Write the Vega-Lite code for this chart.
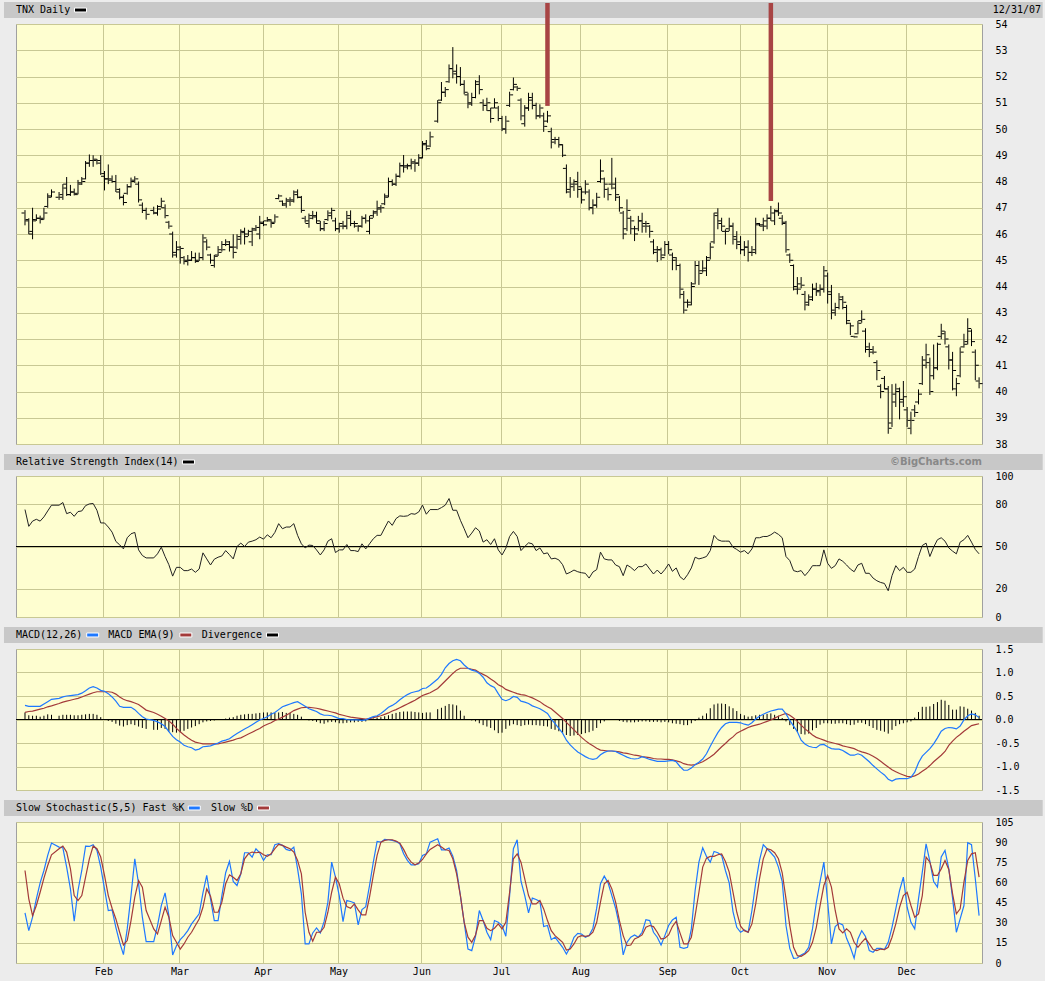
{
"$schema":"https://vega.github.io/schema/vega-lite/v6.json",
"background":"#ececec",
"padding":{"left":3,"top":0,"right":3,"bottom":4},
"spacing":32,
"bounds":"flush",
"config":{
"view":{"fill":"#fefed0","stroke":"#a0a0a0","strokeWidth":1},
"axis":{"labelFont":"DejaVu Sans Mono","labelFontSize":10,"labelColor":"#000","labelOverlap":false,"gridColor":"#c8c894","gridOpacity":1,"gridWidth":1,"ticks":false,"domain":false,"title":null},
"text":{"font":"DejaVu Sans Mono","fontSize":10,"color":"#000"}
},
"datasets":{"one":[{"a":1}],"days":[
{"i":0,"o":46.8,"h":46.91,"l":46.33,"c":46.55,"rsi":76.2,"macd":0.30,"sig":0.15,"div":0.15,"k":37.3,"d":68.9},
{"i":1,"o":46.5,"h":46.6,"l":45.99,"c":46.1,"rsi":64.3,"macd":0.28,"sig":0.17,"div":0.09,"k":24.1,"d":47.8},
{"i":2,"o":46.0,"h":47.0,"l":45.8,"c":46.5,"rsi":68,"macd":0.28,"sig":0.18,"div":0.08,"k":34.1,"d":35.3},
{"i":3,"o":46.55,"h":46.75,"l":46.5,"c":46.6,"rsi":69.3,"macd":0.28,"sig":0.20,"div":0.08,"k":47.8,"d":42.8},
{"i":4,"o":46.6,"h":46.7,"l":46.4,"c":46.55,"rsi":68,"macd":0.28,"sig":0.22,"div":0.06,"k":59.7,"d":52.7},
{"i":5,"o":46.6,"h":47.0,"l":46.55,"c":46.8,"rsi":71,"macd":0.33,"sig":0.24,"div":0.08,"k":68.9,"d":63.2},
{"i":6,"o":47.05,"h":47.55,"l":47.0,"c":47.4,"rsi":75.2,"macd":0.38,"sig":0.27,"div":0.11,"k":80.1,"d":72.6},
{"i":7,"o":47.45,"h":47.7,"l":47.4,"c":47.6,"rsi":79.3,"macd":0.43,"sig":0.29,"div":0.10,"k":89.3,"d":80.6},
{"i":9,"o":47.4,"h":47.6,"l":47.3,"c":47.5,"rsi":79.3,"macd":0.45,"sig":0.34,"div":0.08,"k":86.3,"d":85.1},
{"i":10,"o":47.4,"h":47.9,"l":47.3,"c":47.75,"rsi":81.2,"macd":0.48,"sig":0.37,"div":0.10,"k":85.8,"d":87.1},
{"i":11,"o":47.9,"h":48.17,"l":47.45,"c":47.5,"rsi":73.3,"macd":0.50,"sig":0.39,"div":0.10,"k":71.4,"d":82.6},
{"i":12,"o":47.5,"h":47.87,"l":47.45,"c":47.6,"rsi":74.3,"macd":0.51,"sig":0.41,"div":0.10,"k":55.2,"d":70.1},
{"i":13,"o":47.6,"h":47.73,"l":47.47,"c":47.5,"rsi":71.4,"macd":0.52,"sig":0.43,"div":0.09,"k":31.1,"d":50.2},
{"i":14,"o":47.55,"h":48.06,"l":47.51,"c":47.9,"rsi":74.8,"macd":0.53,"sig":0.45,"div":0.09,"k":54,"d":46.5},
{"i":15,"o":47.95,"h":48.17,"l":47.87,"c":48.0,"rsi":75.2,"macd":0.56,"sig":0.48,"div":0.10,"k":68.9,"d":50.2},
{"i":16,"o":48.1,"h":48.78,"l":48.08,"c":48.7,"rsi":79,"macd":0.61,"sig":0.51,"div":0.11,"k":87.1,"d":63.9},
{"i":17,"o":48.7,"h":49.03,"l":48.56,"c":48.8,"rsi":80.2,"macd":0.67,"sig":0.54,"div":0.12,"k":86.8,"d":77.6},
{"i":18,"o":48.8,"h":49.0,"l":48.56,"c":48.85,"rsi":80.5,"macd":0.70,"sig":0.57,"div":0.12,"k":88.1,"d":87.1},
{"i":19,"o":48.8,"h":48.86,"l":48.65,"c":48.7,"rsi":75.7,"macd":0.67,"sig":0.59,"div":0.10,"k":83.8,"d":85.1},
{"i":20,"o":48.8,"h":49.0,"l":48.25,"c":48.3,"rsi":66.7,"macd":0.62,"sig":0.59,"div":0.05,"k":71.4,"d":78.9},
{"i":21,"o":48.2,"h":48.4,"l":47.66,"c":48.1,"rsi":66.7,"macd":0.60,"sig":0.59,"div":0.00,"k":55.2,"d":65.2},
{"i":22,"o":48.1,"h":48.65,"l":47.9,"c":48.05,"rsi":63.8,"macd":0.55,"sig":0.59,"div":-0.03,"k":39.1,"d":50.2},
{"i":23,"o":48.1,"h":48.23,"l":47.95,"c":48.0,"rsi":60.2,"macd":0.48,"sig":0.58,"div":-0.05,"k":39.6,"d":40.8},
{"i":24,"o":48.0,"h":48.25,"l":47.6,"c":47.7,"rsi":53.6,"macd":0.39,"sig":0.54,"div":-0.09,"k":26.6,"d":32.8},
{"i":25,"o":47.6,"h":47.74,"l":47.32,"c":47.4,"rsi":51.2,"macd":0.28,"sig":0.48,"div":-0.13,"k":15.4,"d":22.9},
{"i":26,"o":47.4,"h":47.5,"l":47.09,"c":47.2,"rsi":48.3,"macd":0.26,"sig":0.43,"div":-0.15,"k":6.2,"d":13.4},
{"i":27,"o":47.55,"h":47.9,"l":47.5,"c":47.8,"rsi":56.2,"macd":0.26,"sig":0.40,"div":-0.12,"k":25.4,"d":16.7},
{"i":28,"o":47.8,"h":48.15,"l":47.77,"c":48.05,"rsi":59,"macd":0.26,"sig":0.38,"div":-0.10,"k":50.2,"d":31.6},
{"i":29,"o":48.0,"h":48.2,"l":47.95,"c":48.1,"rsi":60,"macd":0.21,"sig":0.35,"div":-0.12,"k":77.6,"d":49},
{"i":30,"o":47.9,"h":48.0,"l":47.2,"c":47.3,"rsi":47.6,"macd":0.13,"sig":0.32,"div":-0.15,"k":59,"d":61.4},
{"i":31,"o":47.1,"h":47.2,"l":46.8,"c":46.9,"rsi":43.6,"macd":0.06,"sig":0.26,"div":-0.18,"k":34.1,"d":56.4},
{"i":32,"o":46.9,"h":47.0,"l":46.55,"c":46.75,"rsi":41.9,"macd":0.01,"sig":0.20,"div":-0.20,"k":15.9,"d":39.1},
{"i":34,"o":46.9,"h":47.04,"l":46.75,"c":46.8,"rsi":41.9,"macd":-0.02,"sig":0.15,"div":-0.22,"k":15.9,"d":25.4},
{"i":35,"o":46.8,"h":47.1,"l":46.7,"c":46.95,"rsi":44.8,"macd":-0.05,"sig":0.11,"div":-0.22,"k":27.9,"d":21.6},
{"i":36,"o":47.05,"h":47.38,"l":47.0,"c":47.25,"rsi":49.5,"macd":-0.09,"sig":0.07,"div":-0.18,"k":42.8,"d":31.6},
{"i":37,"o":47.0,"h":47.13,"l":46.6,"c":46.7,"rsi":42.9,"macd":-0.15,"sig":0.02,"div":-0.20,"k":52.2,"d":41.5},
{"i":38,"o":46.45,"h":46.5,"l":46.2,"c":46.3,"rsi":37.1,"macd":-0.26,"sig":-0.03,"div":-0.26,"k":35.3,"d":34.1},
{"i":39,"o":46.0,"h":46.09,"l":45.1,"c":45.2,"rsi":29,"macd":-0.36,"sig":-0.10,"div":-0.27,"k":6,"d":20.4},
{"i":40,"o":45.3,"h":45.73,"l":45.1,"c":45.5,"rsi":35.2,"macd":-0.43,"sig":-0.19,"div":-0.28,"k":12.9,"d":15.4},
{"i":41,"o":45.4,"h":45.54,"l":44.87,"c":45.45,"rsi":35.2,"macd":-0.48,"sig":-0.26,"div":-0.27,"k":17.4,"d":10.4},
{"i":42,"o":45.1,"h":45.16,"l":44.84,"c":45.0,"rsi":32.9,"macd":-0.55,"sig":-0.33,"div":-0.24,"k":20.4,"d":14.2},
{"i":43,"o":44.95,"h":45.2,"l":44.8,"c":45.0,"rsi":32.9,"macd":-0.58,"sig":-0.39,"div":-0.20,"k":24.1,"d":19.2},
{"i":44,"o":45.0,"h":45.35,"l":44.97,"c":45.1,"rsi":34,"macd":-0.60,"sig":-0.44,"div":-0.17,"k":29.1,"d":22.9},
{"i":45,"o":45.1,"h":45.29,"l":44.9,"c":44.95,"rsi":31.7,"macd":-0.65,"sig":-0.48,"div":-0.14,"k":32.8,"d":27.9},
{"i":46,"o":45.0,"h":45.29,"l":44.97,"c":45.1,"rsi":34,"macd":-0.63,"sig":-0.50,"div":-0.10,"k":36.6,"d":32.8},
{"i":47,"o":45.1,"h":45.99,"l":45.0,"c":45.85,"rsi":45.5,"macd":-0.58,"sig":-0.52,"div":-0.06,"k":52.2,"d":41.5},
{"i":48,"o":45.7,"h":45.8,"l":45.38,"c":45.5,"rsi":41.2,"macd":-0.57,"sig":-0.52,"div":-0.04,"k":65.2,"d":55.2},
{"i":49,"o":45.2,"h":45.25,"l":44.87,"c":45.0,"rsi":36.9,"macd":-0.56,"sig":-0.52,"div":-0.03,"k":47.8,"d":49.8},
{"i":50,"o":44.8,"h":45.2,"l":44.72,"c":45.15,"rsi":41,"macd":-0.53,"sig":-0.52,"div":-0.02,"k":31.6,"d":37.8},
{"i":51,"o":45.2,"h":45.54,"l":45.16,"c":45.3,"rsi":42.4,"macd":-0.50,"sig":-0.52,"div":0.00,"k":31.6,"d":37.8},
{"i":52,"o":45.4,"h":45.73,"l":45.33,"c":45.4,"rsi":43.3,"macd":-0.46,"sig":-0.50,"div":0.01,"k":50.2,"d":45.3},
{"i":53,"o":45.6,"h":45.8,"l":45.54,"c":45.7,"rsi":47.1,"macd":-0.44,"sig":-0.48,"div":0.02,"k":67.2,"d":59},
{"i":54,"o":45.6,"h":45.73,"l":45.33,"c":45.5,"rsi":44.3,"macd":-0.41,"sig":-0.46,"div":0.04,"k":75.6,"d":65.7},
{"i":55,"o":45.5,"h":45.99,"l":45.07,"c":45.3,"rsi":41.2,"macd":-0.35,"sig":-0.44,"div":0.05,"k":60.7,"d":63.9},
{"i":56,"o":45.5,"h":45.99,"l":45.42,"c":45.9,"rsi":50,"macd":-0.30,"sig":-0.41,"div":0.08,"k":57.7,"d":61.4},
{"i":57,"o":45.8,"h":46.18,"l":45.6,"c":46.05,"rsi":52.4,"macd":-0.25,"sig":-0.39,"div":0.10,"k":66.4,"d":66.4},
{"i":58,"o":46.1,"h":46.24,"l":45.6,"c":45.9,"rsi":50,"macd":-0.20,"sig":-0.35,"div":0.11,"k":82.1,"d":77.6},
{"i":59,"o":46.0,"h":46.16,"l":45.92,"c":46.1,"rsi":53.1,"macd":-0.16,"sig":-0.31,"div":0.12,"k":82.1,"d":81.3},
{"i":60,"o":45.7,"h":46.24,"l":45.54,"c":46.15,"rsi":53.8,"macd":-0.11,"sig":-0.27,"div":0.12,"k":78.9,"d":82.6},
{"i":61,"o":46.2,"h":46.34,"l":46.11,"c":46.25,"rsi":54.8,"macd":-0.06,"sig":-0.23,"div":0.13,"k":85.1,"d":82.1},
{"i":62,"o":46.0,"h":46.69,"l":45.8,"c":46.4,"rsi":56.7,"macd":-0.01,"sig":-0.19,"div":0.14,"k":82.1,"d":82.6},
{"i":63,"o":46.45,"h":46.5,"l":46.3,"c":46.35,"rsi":55.2,"macd":0.02,"sig":-0.14,"div":0.15,"k":76.4,"d":80.6},
{"i":64,"o":46.5,"h":46.65,"l":46.47,"c":46.55,"rsi":58.3,"macd":0.06,"sig":-0.10,"div":0.15,"k":80.6,"d":79.4},
{"i":65,"o":46.5,"h":46.56,"l":46.24,"c":46.4,"rsi":56.2,"macd":0.11,"sig":-0.07,"div":0.15,"k":80.6,"d":81.3},
{"i":66,"o":46.45,"h":46.75,"l":46.43,"c":46.65,"rsi":60,"macd":0.15,"sig":-0.02,"div":0.14,"k":88.1,"d":85.1},
{"i":67,"o":47.35,"h":47.51,"l":47.32,"c":47.45,"rsi":66.2,"macd":0.21,"sig":0.01,"div":0.15,"k":88.8,"d":88.3},
{"i":68,"o":47.25,"h":47.28,"l":47.07,"c":47.15,"rsi":62.6,"macd":0.27,"sig":0.05,"div":0.16,"k":87.6,"d":87.6},
{"i":69,"o":47.1,"h":47.38,"l":47.0,"c":47.25,"rsi":63.8,"macd":0.30,"sig":0.09,"div":0.14,"k":84.6,"d":86.3},
{"i":70,"o":47.3,"h":47.4,"l":47.07,"c":47.25,"rsi":63.8,"macd":0.33,"sig":0.14,"div":0.14,"k":83.8,"d":85.1},
{"i":71,"o":47.3,"h":47.66,"l":47.2,"c":47.5,"rsi":66.2,"macd":0.36,"sig":0.19,"div":0.12,"k":86.3,"d":82.6},
{"i":72,"o":47.6,"h":47.7,"l":47.36,"c":47.4,"rsi":57.9,"macd":0.38,"sig":0.22,"div":0.10,"k":70.1,"d":76.4},
{"i":73,"o":47.4,"h":47.45,"l":46.81,"c":46.9,"rsi":51.9,"macd":0.33,"sig":0.25,"div":0.06,"k":51.5,"d":66.4},
{"i":74,"o":46.6,"h":46.69,"l":46.43,"c":46.5,"rsi":49,"macd":0.28,"sig":0.26,"div":0.00,"k":14.2,"d":37.8},
{"i":75,"o":46.4,"h":46.78,"l":46.24,"c":46.6,"rsi":51,"macd":0.23,"sig":0.26,"div":-0.02,"k":14.2,"d":22.9},
{"i":76,"o":46.7,"h":46.88,"l":46.56,"c":46.65,"rsi":50.7,"macd":0.20,"sig":0.25,"div":-0.03,"k":22.4,"d":16.2},
{"i":77,"o":46.7,"h":46.85,"l":46.4,"c":46.5,"rsi":47.6,"macd":0.17,"sig":0.24,"div":-0.05,"k":26.1,"d":22.9},
{"i":78,"o":46.4,"h":46.5,"l":46.11,"c":46.2,"rsi":44,"macd":0.12,"sig":0.22,"div":-0.08,"k":22.4,"d":22.9},
{"i":79,"o":46.2,"h":46.5,"l":46.11,"c":46.4,"rsi":47.6,"macd":0.09,"sig":0.20,"div":-0.09,"k":30.8,"d":26.6},
{"i":80,"o":46.55,"h":46.9,"l":46.5,"c":46.8,"rsi":53.8,"macd":0.09,"sig":0.18,"div":-0.06,"k":45.3,"d":37.8},
{"i":81,"o":46.7,"h":47.0,"l":46.56,"c":46.9,"rsi":55.5,"macd":0.08,"sig":0.16,"div":-0.05,"k":75.1,"d":52.7},
{"i":82,"o":46.5,"h":46.62,"l":46.11,"c":46.2,"rsi":45.7,"macd":0.05,"sig":0.14,"div":-0.06,"k":63.9,"d":63.9},
{"i":83,"o":46.2,"h":46.43,"l":46.05,"c":46.3,"rsi":47.6,"macd":0.02,"sig":0.11,"div":-0.08,"k":50.2,"d":59},
{"i":84,"o":46.4,"h":46.5,"l":46.18,"c":46.3,"rsi":47.6,"macd":0.02,"sig":0.09,"div":-0.08,"k":30.8,"d":48.3},
{"i":85,"o":46.3,"h":46.88,"l":46.18,"c":46.6,"rsi":51.4,"macd":0.00,"sig":0.07,"div":-0.07,"k":46.5,"d":42},
{"i":86,"o":46.7,"h":46.9,"l":46.3,"c":46.4,"rsi":47.1,"macd":-0.01,"sig":0.05,"div":-0.06,"k":45.8,"d":40.8},
{"i":87,"o":46.4,"h":46.5,"l":46.24,"c":46.4,"rsi":47.1,"macd":-0.01,"sig":0.04,"div":-0.06,"k":44.8,"d":44},
{"i":88,"o":46.3,"h":46.34,"l":46.09,"c":46.3,"rsi":46.4,"macd":-0.01,"sig":0.03,"div":-0.05,"k":28.4,"d":39.6},
{"i":89,"o":46.3,"h":46.69,"l":46.24,"c":46.6,"rsi":51.9,"macd":-0.02,"sig":0.02,"div":-0.05,"k":39.8,"d":35.8},
{"i":90,"o":46.6,"h":46.75,"l":46.4,"c":46.5,"rsi":48.3,"macd":-0.01,"sig":0.01,"div":-0.04,"k":42,"d":35.8},
{"i":91,"o":46.1,"h":46.69,"l":45.99,"c":46.6,"rsi":51.9,"macd":0.03,"sig":0.02,"div":0.00,"k":57.7,"d":49},
{"i":92,"o":46.7,"h":46.9,"l":46.62,"c":46.85,"rsi":55.5,"macd":0.06,"sig":0.04,"div":0.02,"k":75.1,"d":65.2},
{"i":93,"o":46.8,"h":47.27,"l":46.69,"c":47.0,"rsi":57.9,"macd":0.08,"sig":0.06,"div":0.04,"k":90.5,"d":80.1},
{"i":94,"o":46.95,"h":47.1,"l":46.81,"c":47.0,"rsi":57.9,"macd":0.13,"sig":0.08,"div":0.05,"k":90,"d":90},
{"i":95,"o":47.15,"h":47.54,"l":47.1,"c":47.4,"rsi":63.1,"macd":0.19,"sig":0.11,"div":0.07,"k":92,"d":91.3},
{"i":96,"o":47.45,"h":48.15,"l":47.4,"c":48.0,"rsi":68.1,"macd":0.26,"sig":0.14,"div":0.09,"k":91.8,"d":91.8},
{"i":97,"o":48.0,"h":48.08,"l":47.83,"c":47.9,"rsi":65,"macd":0.30,"sig":0.18,"div":0.12,"k":91.3,"d":91.8},
{"i":98,"o":47.9,"h":48.3,"l":47.83,"c":48.2,"rsi":69.8,"macd":0.35,"sig":0.21,"div":0.14,"k":90.5,"d":90.8},
{"i":99,"o":48.2,"h":48.72,"l":48.15,"c":48.6,"rsi":71.7,"macd":0.42,"sig":0.25,"div":0.16,"k":88.8,"d":89.3},
{"i":100,"o":48.6,"h":49.01,"l":48.34,"c":48.6,"rsi":71.4,"macd":0.48,"sig":0.29,"div":0.17,"k":81.3,"d":84.6},
{"i":101,"o":48.55,"h":48.68,"l":48.46,"c":48.6,"rsi":71.7,"macd":0.53,"sig":0.33,"div":0.17,"k":76.4,"d":78.9},
{"i":102,"o":48.6,"h":48.87,"l":48.46,"c":48.75,"rsi":73.3,"macd":0.57,"sig":0.37,"div":0.17,"k":73.1,"d":75.1},
{"i":103,"o":48.7,"h":48.85,"l":48.37,"c":48.7,"rsi":72.9,"macd":0.59,"sig":0.41,"div":0.16,"k":73.1,"d":73.1},
{"i":104,"o":48.7,"h":49.04,"l":48.59,"c":48.9,"rsi":74.5,"macd":0.61,"sig":0.46,"div":0.15,"k":73.9,"d":74.4},
{"i":105,"o":48.9,"h":49.54,"l":48.88,"c":49.45,"rsi":79.3,"macd":0.66,"sig":0.51,"div":0.14,"k":80.1,"d":77.1},
{"i":106,"o":49.4,"h":49.58,"l":49.19,"c":49.25,"rsi":72.9,"macd":0.67,"sig":0.54,"div":0.15,"k":81.3,"d":81.3},
{"i":107,"o":49.35,"h":49.9,"l":49.31,"c":49.7,"rsi":76.2,"macd":0.73,"sig":0.57,"div":0.15,"k":90,"d":84.6},
{"i":109,"o":50.3,"h":51.1,"l":50.24,"c":51.0,"rsi":76.2,"macd":0.86,"sig":0.66,"div":0.22,"k":92.5,"d":88.1},
{"i":110,"o":51.1,"h":51.79,"l":51.07,"c":51.4,"rsi":77.6,"macd":0.96,"sig":0.74,"div":0.25,"k":84.3,"d":86.3},
{"i":111,"o":51.4,"h":51.6,"l":51.22,"c":51.5,"rsi":79.3,"macd":1.10,"sig":0.82,"div":0.29,"k":84.3,"d":84.3},
{"i":112,"o":51.8,"h":52.46,"l":51.76,"c":52.3,"rsi":84,"macd":1.19,"sig":0.90,"div":0.33,"k":85.6,"d":83.8},
{"i":113,"o":52.3,"h":53.12,"l":51.93,"c":52.1,"rsi":75.7,"macd":1.25,"sig":0.98,"div":0.32,"k":79.6,"d":77.6},
{"i":114,"o":52.2,"h":52.46,"l":51.73,"c":52.0,"rsi":75.7,"macd":1.28,"sig":1.05,"div":0.30,"k":68.9,"d":66.4},
{"i":115,"o":52.0,"h":52.36,"l":51.64,"c":51.7,"rsi":68.6,"macd":1.25,"sig":1.09,"div":0.19,"k":50.2,"d":50.2},
{"i":116,"o":51.7,"h":51.86,"l":51.32,"c":51.4,"rsi":62.6,"macd":1.16,"sig":1.09,"div":0.08,"k":30.3,"d":30.3},
{"i":117,"o":51.3,"h":51.38,"l":50.79,"c":50.95,"rsi":56.2,"macd":1.09,"sig":1.09,"div":0.01,"k":10.4,"d":19.2},
{"i":118,"o":51.0,"h":51.38,"l":50.88,"c":51.2,"rsi":59.5,"macd":1.05,"sig":1.07,"div":-0.02,"k":9.2,"d":15.4},
{"i":119,"o":51.2,"h":51.86,"l":51.17,"c":51.7,"rsi":63.3,"macd":1.03,"sig":1.05,"div":-0.04,"k":19.9,"d":20.9},
{"i":120,"o":51.8,"h":52.05,"l":51.32,"c":51.5,"rsi":61,"macd":0.98,"sig":1.00,"div":-0.08,"k":39.1,"d":31.6},
{"i":121,"o":51.0,"h":51.13,"l":50.69,"c":50.9,"rsi":53.1,"macd":0.90,"sig":0.96,"div":-0.12,"k":31.6,"d":31.6},
{"i":122,"o":50.9,"h":51.19,"l":50.69,"c":51.0,"rsi":54.8,"macd":0.78,"sig":0.92,"div":-0.15,"k":22.9,"d":25.9},
{"i":123,"o":50.7,"h":50.81,"l":50.24,"c":50.4,"rsi":51.4,"macd":0.72,"sig":0.86,"div":-0.18,"k":17.4,"d":24.1},
{"i":124,"o":50.8,"h":51.17,"l":50.79,"c":51.0,"rsi":55.5,"macd":0.68,"sig":0.81,"div":-0.23,"k":31.6,"d":25.9},
{"i":125,"o":50.8,"h":50.88,"l":50.3,"c":50.4,"rsi":47.6,"macd":0.55,"sig":0.74,"div":-0.29,"k":30.3,"d":29.1},
{"i":126,"o":50.4,"h":50.5,"l":49.92,"c":50.0,"rsi":44,"macd":0.43,"sig":0.70,"div":-0.28,"k":27.9,"d":25.4},
{"i":127,"o":50.0,"h":50.5,"l":49.82,"c":50.3,"rsi":48.8,"macd":0.40,"sig":0.64,"div":-0.20,"k":19.9,"d":30.3},
{"i":128,"o":50.9,"h":51.42,"l":50.84,"c":51.3,"rsi":57.1,"macd":0.43,"sig":0.61,"div":-0.13,"k":50.2,"d":52.7},
{"i":129,"o":51.5,"h":51.96,"l":51.47,"c":51.7,"rsi":60.7,"macd":0.49,"sig":0.58,"div":-0.10,"k":85.1,"d":77.6},
{"i":130,"o":51.6,"h":51.64,"l":51.45,"c":51.55,"rsi":57.1,"macd":0.47,"sig":0.55,"div":-0.12,"k":91.8,"d":81.3},
{"i":131,"o":51.1,"h":51.17,"l":50.33,"c":50.5,"rsi":47.1,"macd":0.39,"sig":0.53,"div":-0.14,"k":60.9,"d":75.1},
{"i":132,"o":50.2,"h":50.91,"l":50.09,"c":50.8,"rsi":50,"macd":0.37,"sig":0.52,"div":-0.12,"k":50.2,"d":62.7},
{"i":133,"o":50.8,"h":51.38,"l":50.69,"c":51.1,"rsi":52.6,"macd":0.34,"sig":0.49,"div":-0.11,"k":37.3,"d":50.2},
{"i":134,"o":51.2,"h":51.38,"l":50.75,"c":50.9,"rsi":51.9,"macd":0.29,"sig":0.46,"div":-0.12,"k":48.3,"d":44},
{"i":135,"o":50.9,"h":51.0,"l":50.37,"c":50.5,"rsi":47.1,"macd":0.26,"sig":0.42,"div":-0.12,"k":47.3,"d":44},
{"i":136,"o":50.5,"h":50.94,"l":50.41,"c":50.8,"rsi":49,"macd":0.23,"sig":0.38,"div":-0.13,"k":45.8,"d":46.5},
{"i":137,"o":50.5,"h":50.62,"l":49.89,"c":50.1,"rsi":44.8,"macd":0.18,"sig":0.32,"div":-0.14,"k":27.1,"d":40.3},
{"i":138,"o":50.3,"h":50.69,"l":50.24,"c":50.5,"rsi":45.5,"macd":0.13,"sig":0.27,"div":-0.15,"k":27.9,"d":31.6},
{"i":139,"o":49.9,"h":50.05,"l":49.26,"c":49.6,"rsi":41.2,"macd":0.01,"sig":0.23,"div":-0.20,"k":17.4,"d":24.1},
{"i":140,"o":49.5,"h":49.7,"l":49.42,"c":49.6,"rsi":41.7,"macd":-0.09,"sig":0.16,"div":-0.22,"k":19.2,"d":20.4},
{"i":141,"o":49.6,"h":49.7,"l":49.29,"c":49.4,"rsi":40.5,"macd":-0.19,"sig":0.09,"div":-0.25,"k":15.4,"d":17.9},
{"i":142,"o":49.4,"h":49.42,"l":48.93,"c":49.0,"rsi":37.1,"macd":-0.29,"sig":0.02,"div":-0.28,"k":11.7,"d":15.4},
{"i":143,"o":48.5,"h":48.65,"l":47.55,"c":47.7,"rsi":30.5,"macd":-0.44,"sig":-0.06,"div":-0.33,"k":6.7,"d":9.7},
{"i":144,"o":47.6,"h":48.17,"l":47.38,"c":47.9,"rsi":31.7,"macd":-0.54,"sig":-0.14,"div":-0.35,"k":11.7,"d":10.4},
{"i":145,"o":47.8,"h":48.08,"l":47.64,"c":47.9,"rsi":33.3,"macd":-0.62,"sig":-0.22,"div":-0.34,"k":19.2,"d":14.2},
{"i":146,"o":48.0,"h":48.37,"l":47.38,"c":47.8,"rsi":32.1,"macd":-0.69,"sig":-0.30,"div":-0.33,"k":22.1,"d":19.2},
{"i":147,"o":47.7,"h":47.77,"l":47.16,"c":47.3,"rsi":31.4,"macd":-0.74,"sig":-0.38,"div":-0.31,"k":21.6,"d":20.4},
{"i":148,"o":47.6,"h":48.05,"l":47.51,"c":47.9,"rsi":31,"macd":-0.79,"sig":-0.45,"div":-0.29,"k":19.2,"d":19.9},
{"i":149,"o":47.6,"h":47.7,"l":46.9,"c":47.0,"rsi":27.6,"macd":-0.83,"sig":-0.51,"div":-0.27,"k":20.4,"d":20.4},
{"i":150,"o":47.0,"h":47.32,"l":46.75,"c":47.1,"rsi":31.9,"macd":-0.85,"sig":-0.56,"div":-0.24,"k":25.9,"d":22.9},
{"i":151,"o":47.1,"h":47.57,"l":47.0,"c":47.4,"rsi":33.6,"macd":-0.83,"sig":-0.61,"div":-0.18,"k":40.8,"d":30.3},
{"i":152,"o":48.0,"h":48.84,"l":47.95,"c":48.4,"rsi":46,"macd":-0.75,"sig":-0.65,"div":-0.08,"k":59,"d":45.3},
{"i":153,"o":48.1,"h":48.15,"l":47.38,"c":47.9,"rsi":41.2,"macd":-0.70,"sig":-0.66,"div":-0.04,"k":64.7,"d":59},
{"i":154,"o":47.7,"h":47.77,"l":47.28,"c":47.5,"rsi":40.5,"macd":-0.67,"sig":-0.67,"div":0.00,"k":59.7,"d":61.4},
{"i":155,"o":47.9,"h":48.9,"l":47.7,"c":47.75,"rsi":40.5,"macd":-0.67,"sig":-0.67,"div":0.00,"k":50.2,"d":55.2},
{"i":156,"o":47.9,"h":48.15,"l":47.26,"c":47.5,"rsi":36.9,"macd":-0.68,"sig":-0.68,"div":-0.01,"k":40.8,"d":45.3},
{"i":157,"o":47.4,"h":47.45,"l":46.85,"c":47.0,"rsi":35.7,"macd":-0.72,"sig":-0.69,"div":-0.03,"k":27.9,"d":31.6},
{"i":158,"o":46.8,"h":46.88,"l":45.8,"c":46.0,"rsi":29.3,"macd":-0.76,"sig":-0.71,"div":-0.05,"k":6,"d":20.4},
{"i":159,"o":46.2,"h":47.32,"l":46.11,"c":46.9,"rsi":36.9,"macd":-0.80,"sig":-0.72,"div":-0.06,"k":15.4,"d":12.9},
{"i":160,"o":46.6,"h":46.69,"l":45.99,"c":46.5,"rsi":35.2,"macd":-0.83,"sig":-0.74,"div":-0.06,"k":19.2,"d":13.4},
{"i":161,"o":46.2,"h":46.31,"l":45.73,"c":46.0,"rsi":32.9,"macd":-0.84,"sig":-0.76,"div":-0.06,"k":20.9,"d":17.9},
{"i":162,"o":46.2,"h":46.69,"l":46.11,"c":46.5,"rsi":35.7,"macd":-0.83,"sig":-0.77,"div":-0.05,"k":19.2,"d":19.2},
{"i":163,"o":46.5,"h":46.81,"l":46.05,"c":46.4,"rsi":35.7,"macd":-0.79,"sig":-0.79,"div":-0.04,"k":22.9,"d":20.9},
{"i":164,"o":46.3,"h":46.5,"l":46.05,"c":46.4,"rsi":37.6,"macd":-0.82,"sig":-0.80,"div":-0.04,"k":32.3,"d":26.6},
{"i":165,"o":46.3,"h":46.34,"l":45.86,"c":46.1,"rsi":34,"macd":-0.85,"sig":-0.81,"div":-0.05,"k":31.6,"d":27.9},
{"i":166,"o":45.7,"h":45.8,"l":45.23,"c":45.4,"rsi":30.5,"macd":-0.87,"sig":-0.83,"div":-0.05,"k":22.9,"d":27.1},
{"i":167,"o":45.3,"h":45.54,"l":44.93,"c":45.4,"rsi":33.3,"macd":-0.89,"sig":-0.84,"div":-0.05,"k":19.2,"d":22.9},
{"i":168,"o":45.4,"h":45.48,"l":45.0,"c":45.1,"rsi":30.5,"macd":-0.89,"sig":-0.84,"div":-0.06,"k":13.4,"d":17.9},
{"i":169,"o":45.2,"h":45.73,"l":45.16,"c":45.6,"rsi":33.6,"macd":-0.89,"sig":-0.85,"div":-0.05,"k":20.4,"d":18.4},
{"i":170,"o":45.6,"h":45.73,"l":45.23,"c":45.4,"rsi":37.6,"macd":-0.88,"sig":-0.85,"div":-0.06,"k":27.9,"d":20.9},
{"i":171,"o":45.2,"h":45.29,"l":44.62,"c":45.1,"rsi":32.4,"macd":-0.87,"sig":-0.86,"div":-0.08,"k":32.1,"d":27.1},
{"i":172,"o":45.0,"h":45.12,"l":44.62,"c":44.8,"rsi":34.8,"macd":-0.90,"sig":-0.88,"div":-0.09,"k":34.1,"d":31.1},
{"i":173,"o":44.8,"h":44.87,"l":43.54,"c":43.9,"rsi":28.6,"macd":-1.00,"sig":-0.90,"div":-0.10,"k":11.7,"d":22.4},
{"i":174,"o":43.7,"h":43.83,"l":42.97,"c":43.1,"rsi":26.4,"macd":-1.08,"sig":-0.94,"div":-0.12,"k":10.9,"d":14.2},
{"i":175,"o":43.4,"h":43.51,"l":43.19,"c":43.3,"rsi":30,"macd":-1.08,"sig":-0.96,"div":-0.12,"k":11.7,"d":14.2},
{"i":176,"o":43.4,"h":44.17,"l":43.28,"c":44.0,"rsi":34.8,"macd":-1.03,"sig":-0.97,"div":-0.08,"k":25.4,"d":19.2},
{"i":177,"o":44.1,"h":44.97,"l":44.08,"c":44.8,"rsi":42.4,"macd":-0.96,"sig":-0.96,"div":-0.03,"k":54,"d":35.3},
{"i":178,"o":44.8,"h":44.97,"l":44.06,"c":44.5,"rsi":41.2,"macd":-0.91,"sig":-0.93,"div":0.04,"k":75.1,"d":52.7},
{"i":179,"o":44.6,"h":45.0,"l":44.53,"c":44.7,"rsi":41.9,"macd":-0.84,"sig":-0.90,"div":0.08,"k":85.8,"d":71.4},
{"i":180,"o":44.6,"h":45.16,"l":44.4,"c":45.0,"rsi":42.9,"macd":-0.73,"sig":-0.85,"div":0.13,"k":79.4,"d":78.1},
{"i":181,"o":45.1,"h":45.67,"l":45.03,"c":45.5,"rsi":47.1,"macd":-0.57,"sig":-0.80,"div":0.24,"k":75.1,"d":79.4},
{"i":182,"o":45.7,"h":46.81,"l":45.63,"c":46.7,"rsi":57.9,"macd":-0.42,"sig":-0.74,"div":0.32,"k":83.1,"d":79.4},
{"i":183,"o":46.8,"h":46.98,"l":46.18,"c":46.4,"rsi":54.8,"macd":-0.28,"sig":-0.66,"div":0.34,"k":82.1,"d":80.6},
{"i":184,"o":46.5,"h":46.62,"l":46.11,"c":46.3,"rsi":53.8,"macd":-0.17,"sig":-0.58,"div":0.34,"k":80.1,"d":81.3},
{"i":185,"o":46.1,"h":46.18,"l":45.6,"c":46.1,"rsi":53.8,"macd":-0.09,"sig":-0.51,"div":0.33,"k":68.9,"d":75.6},
{"i":186,"o":46.2,"h":46.62,"l":46.11,"c":46.3,"rsi":53.8,"macd":-0.06,"sig":-0.43,"div":0.28,"k":59.7,"d":67.7},
{"i":187,"o":46.3,"h":46.43,"l":45.6,"c":45.8,"rsi":49.5,"macd":-0.06,"sig":-0.37,"div":0.24,"k":38.3,"d":52.7},
{"i":188,"o":45.9,"h":46.11,"l":45.42,"c":45.6,"rsi":47.9,"macd":-0.06,"sig":-0.29,"div":0.18,"k":26.6,"d":37.8},
{"i":189,"o":45.7,"h":45.92,"l":45.23,"c":45.4,"rsi":46,"macd":-0.07,"sig":-0.25,"div":0.12,"k":22.9,"d":27.4},
{"i":190,"o":45.4,"h":45.73,"l":45.16,"c":45.5,"rsi":47.1,"macd":-0.10,"sig":-0.21,"div":0.09,"k":24.6,"d":24.1},
{"i":191,"o":45.5,"h":45.76,"l":44.95,"c":45.3,"rsi":44.8,"macd":-0.12,"sig":-0.17,"div":0.06,"k":22.9,"d":22.9},
{"i":192,"o":45.3,"h":45.54,"l":45.16,"c":45.4,"rsi":48.3,"macd":-0.07,"sig":-0.14,"div":0.07,"k":39.1,"d":29.1},
{"i":193,"o":45.3,"h":46.62,"l":45.23,"c":46.4,"rsi":56.2,"macd":0.01,"sig":-0.12,"div":0.09,"k":59.5,"d":44},
{"i":194,"o":46.35,"h":46.42,"l":46.3,"c":46.35,"rsi":56.2,"macd":0.07,"sig":-0.10,"div":0.10,"k":76.4,"d":62.7},
{"i":195,"o":46.3,"h":46.62,"l":46.11,"c":46.5,"rsi":57.1,"macd":0.11,"sig":-0.07,"div":0.10,"k":88.1,"d":77.6},
{"i":196,"o":46.3,"h":46.75,"l":46.18,"c":46.6,"rsi":57.1,"macd":0.15,"sig":-0.04,"div":0.12,"k":85.1,"d":85.1},
{"i":197,"o":46.6,"h":47.07,"l":46.5,"c":46.8,"rsi":58.3,"macd":0.18,"sig":-0.01,"div":0.13,"k":82.1,"d":84.3},
{"i":198,"o":46.5,"h":46.94,"l":46.34,"c":46.85,"rsi":60.2,"macd":0.20,"sig":0.03,"div":0.10,"k":78.9,"d":82.1},
{"i":199,"o":46.9,"h":47.2,"l":46.69,"c":46.8,"rsi":58.6,"macd":0.22,"sig":0.07,"div":0.08,"k":71.4,"d":77.6},
{"i":200,"o":46.6,"h":46.72,"l":46.34,"c":46.45,"rsi":56.2,"macd":0.22,"sig":0.10,"div":0.03,"k":60.7,"d":67.2},
{"i":201,"o":46.4,"h":46.5,"l":45.29,"c":45.4,"rsi":42.9,"macd":0.12,"sig":0.13,"div":-0.04,"k":27.9,"d":47.8},
{"i":202,"o":45.2,"h":45.26,"l":44.9,"c":45.0,"rsi":40,"macd":-0.02,"sig":0.09,"div":-0.12,"k":10.9,"d":27.9},
{"i":203,"o":44.8,"h":44.84,"l":43.85,"c":43.9,"rsi":32.9,"macd":-0.14,"sig":0.03,"div":-0.20,"k":3.5,"d":11.7},
{"i":204,"o":44.0,"h":44.36,"l":43.7,"c":43.9,"rsi":32.1,"macd":-0.26,"sig":-0.04,"div":-0.27,"k":3.7,"d":5.5},
{"i":205,"o":44.1,"h":44.36,"l":43.93,"c":44.05,"rsi":32.9,"macd":-0.44,"sig":-0.12,"div":-0.31,"k":6,"d":5},
{"i":206,"o":43.7,"h":43.83,"l":43.09,"c":43.3,"rsi":29.3,"macd":-0.52,"sig":-0.20,"div":-0.32,"k":7.5,"d":6.7},
{"i":207,"o":43.4,"h":43.7,"l":43.26,"c":43.5,"rsi":32.4,"macd":-0.57,"sig":-0.26,"div":-0.30,"k":11.7,"d":9.2},
{"i":208,"o":43.6,"h":44.11,"l":43.45,"c":43.9,"rsi":36.4,"macd":-0.59,"sig":-0.33,"div":-0.23,"k":25.4,"d":15.4},
{"i":209,"o":43.9,"h":44.14,"l":43.64,"c":43.85,"rsi":36.4,"macd":-0.60,"sig":-0.38,"div":-0.18,"k":44.8,"d":26.6},
{"i":210,"o":43.8,"h":44.08,"l":43.64,"c":43.9,"rsi":36.4,"macd":-0.54,"sig":-0.41,"div":-0.11,"k":60.7,"d":42.8},
{"i":211,"o":43.9,"h":44.78,"l":43.77,"c":44.6,"rsi":47.6,"macd":-0.53,"sig":-0.44,"div":-0.08,"k":75.1,"d":57.7},
{"i":212,"o":44.4,"h":44.53,"l":43.35,"c":43.7,"rsi":38.1,"macd":-0.58,"sig":-0.47,"div":-0.08,"k":45.8,"d":65.2},
{"i":213,"o":43.8,"h":44.06,"l":42.75,"c":43.0,"rsi":34.5,"macd":-0.62,"sig":-0.49,"div":-0.09,"k":14.2,"d":56.5},
{"i":214,"o":43.1,"h":43.38,"l":42.88,"c":43.2,"rsi":36.4,"macd":-0.63,"sig":-0.51,"div":-0.09,"k":27.1,"d":39.1},
{"i":215,"o":43.2,"h":43.75,"l":43.13,"c":43.6,"rsi":41.2,"macd":-0.63,"sig":-0.53,"div":-0.08,"k":29.6,"d":25.4},
{"i":216,"o":43.5,"h":43.64,"l":43.13,"c":43.4,"rsi":39.5,"macd":-0.66,"sig":-0.56,"div":-0.08,"k":28.4,"d":22.4},
{"i":217,"o":43.2,"h":43.3,"l":42.56,"c":42.7,"rsi":36.9,"macd":-0.71,"sig":-0.58,"div":-0.10,"k":18.4,"d":25.4},
{"i":218,"o":42.6,"h":42.62,"l":42.15,"c":42.5,"rsi":34,"macd":-0.76,"sig":-0.60,"div":-0.12,"k":11.7,"d":22.9},
{"i":219,"o":42.1,"h":42.12,"l":42.05,"c":42.08,"rsi":32.1,"macd":-0.76,"sig":-0.62,"div":-0.11,"k":3.5,"d":15.4},
{"i":220,"o":42.2,"h":42.69,"l":42.18,"c":42.6,"rsi":36.9,"macd":-0.73,"sig":-0.66,"div":-0.07,"k":17.9,"d":11.7},
{"i":221,"o":42.7,"h":43.09,"l":42.62,"c":42.75,"rsi":38.1,"macd":-0.76,"sig":-0.69,"div":-0.07,"k":24.1,"d":15.4},
{"i":222,"o":42.3,"h":42.41,"l":41.48,"c":41.6,"rsi":31,"macd":-0.83,"sig":-0.71,"div":-0.10,"k":19.7,"d":18.4},
{"i":223,"o":41.7,"h":41.86,"l":41.31,"c":41.5,"rsi":31,"macd":-0.90,"sig":-0.74,"div":-0.14,"k":9.2,"d":14.2},
{"i":224,"o":41.6,"h":41.73,"l":41.42,"c":41.5,"rsi":27.6,"macd":-0.98,"sig":-0.78,"div":-0.18,"k":8,"d":10},
{"i":225,"o":41.1,"h":41.19,"l":40.43,"c":40.8,"rsi":25.7,"macd":-1.05,"sig":-0.83,"div":-0.22,"k":10.9,"d":9.2},
{"i":226,"o":40.2,"h":40.28,"l":39.74,"c":40.0,"rsi":24.5,"macd":-1.12,"sig":-0.89,"div":-0.24,"k":10.9,"d":10.4},
{"i":227,"o":40.5,"h":40.59,"l":40.08,"c":40.1,"rsi":23.8,"macd":-1.18,"sig":-0.95,"div":-0.26,"k":10,"d":10},
{"i":228,"o":40.1,"h":40.21,"l":38.39,"c":38.6,"rsi":18.6,"macd":-1.27,"sig":-1.01,"div":-0.30,"k":15.4,"d":11.7},
{"i":229,"o":38.8,"h":40.28,"l":38.65,"c":39.9,"rsi":29.3,"macd":-1.31,"sig":-1.07,"div":-0.22,"k":26.6,"d":19.2},
{"i":230,"o":39.6,"h":40.3,"l":39.41,"c":40.1,"rsi":36.4,"macd":-1.27,"sig":-1.11,"div":-0.14,"k":40.3,"d":29.1},
{"i":231,"o":40.0,"h":40.15,"l":38.94,"c":39.7,"rsi":32.9,"macd":-1.26,"sig":-1.15,"div":-0.10,"k":54,"d":41.5},
{"i":232,"o":39.6,"h":40.4,"l":39.41,"c":39.8,"rsi":35.2,"macd":-1.26,"sig":-1.18,"div":-0.08,"k":63.9,"d":50.2},
{"i":233,"o":39.3,"h":39.41,"l":38.65,"c":38.9,"rsi":31.7,"macd":-1.26,"sig":-1.21,"div":-0.06,"k":41.5,"d":52.7},
{"i":234,"o":38.6,"h":39.23,"l":38.37,"c":38.9,"rsi":31.7,"macd":-1.23,"sig":-1.22,"div":-0.04,"k":30.3,"d":42.8},
{"i":235,"o":39.3,"h":39.49,"l":39.03,"c":39.2,"rsi":34,"macd":-1.12,"sig":-1.20,"div":0.04,"k":25.4,"d":34.1},
{"i":236,"o":39.6,"h":40.08,"l":39.51,"c":39.9,"rsi":42.9,"macd":-0.92,"sig":-1.16,"div":0.16,"k":47.8,"d":36.6},
{"i":237,"o":40.3,"h":41.35,"l":40.25,"c":41.2,"rsi":50.7,"macd":-0.78,"sig":-1.10,"div":0.27,"k":67.7,"d":50.2},
{"i":238,"o":41.0,"h":41.82,"l":40.88,"c":41.4,"rsi":52.4,"macd":-0.70,"sig":-1.05,"div":0.27,"k":88.8,"d":78.9},
{"i":239,"o":41.1,"h":41.29,"l":39.87,"c":40.0,"rsi":42.9,"macd":-0.62,"sig":-0.98,"div":0.28,"k":75.6,"d":75.1},
{"i":240,"o":40.6,"h":41.79,"l":40.46,"c":40.9,"rsi":49.5,"macd":-0.52,"sig":-0.90,"div":0.33,"k":60.7,"d":65.2},
{"i":241,"o":40.9,"h":41.86,"l":40.81,"c":41.8,"rsi":54.8,"macd":-0.39,"sig":-0.83,"div":0.37,"k":56.5,"d":65.2},
{"i":242,"o":42.1,"h":42.58,"l":41.99,"c":42.3,"rsi":56.2,"macd":-0.25,"sig":-0.76,"div":0.42,"k":78.9,"d":70.1},
{"i":243,"o":42.2,"h":42.3,"l":41.79,"c":42.0,"rsi":53.8,"macd":-0.19,"sig":-0.68,"div":0.40,"k":83.8,"d":76.4},
{"i":244,"o":41.7,"h":41.79,"l":40.84,"c":41.2,"rsi":49,"macd":-0.17,"sig":-0.55,"div":0.31,"k":70.1,"d":69.7},
{"i":245,"o":41.2,"h":41.51,"l":40.04,"c":40.8,"rsi":46.7,"macd":-0.18,"sig":-0.46,"div":0.21,"k":48.3,"d":51.5},
{"i":246,"o":40.1,"h":40.52,"l":39.82,"c":40.3,"rsi":44.8,"macd":-0.20,"sig":-0.38,"div":0.21,"k":22.9,"d":36.6},
{"i":247,"o":40.6,"h":41.68,"l":40.54,"c":41.5,"rsi":53.1,"macd":-0.14,"sig":-0.32,"div":0.28,"k":32.8,"d":40.3},
{"i":248,"o":41.7,"h":42.2,"l":41.67,"c":41.9,"rsi":54.8,"macd":-0.01,"sig":-0.25,"div":0.27,"k":42.8,"d":60.2},
{"i":249,"o":41.8,"h":42.79,"l":41.79,"c":42.4,"rsi":57.9,"macd":0.08,"sig":-0.19,"div":0.23,"k":89.6,"d":76.4},
{"i":250,"o":42.3,"h":42.37,"l":41.73,"c":41.9,"rsi":53.1,"macd":0.12,"sig":-0.13,"div":0.19,"k":88.1,"d":81.3},
{"i":251,"o":41.5,"h":41.6,"l":40.43,"c":41.0,"rsi":47.9,"macd":0.10,"sig":-0.11,"div":0.14,"k":62.7,"d":82.1},
{"i":252,"o":40.4,"h":40.54,"l":40.12,"c":40.3,"rsi":44.8,"macd":0.04,"sig":-0.09,"div":0.08,"k":35.3,"d":63.9}
]},
"data":{"name":"days"},
"vconcat":[
{
"width":966,"height":420,
"layer":[
{"data":{"name":"one"},"mark":{"type":"rect","color":"#c8c8c8","clip":false},"encoding":{"x":{"datum":-5.55,"type":"quantitative"},"x2":{"datum":268.8},"y":{"datum":54.838,"type":"quantitative"},"y2":{"datum":54.229}}},
{"data":{"name":"one"},"mark":{"type":"text","align":"left","baseline":"middle"},"encoding":{"x":{"datum":-2.377,"type":"quantitative"},"y":{"datum":54.533,"type":"quantitative"},"text":{"value":"TNX Daily"}}},
{"data":{"name":"one"},"mark":{"type":"point","shape":"M-1,-0.33L1,-0.33L1,0.33L-1,0.33Z","size":144,"filled":true,"fill":"#000","stroke":"#fff","strokeWidth":1,"opacity":1},"encoding":{"x":{"datum":14.66,"type":"quantitative"},"y":{"datum":54.533,"type":"quantitative"}}},
{"data":{"name":"one"},"mark":{"type":"text","align":"right","baseline":"middle"},"encoding":{"x":{"datum":268.35,"type":"quantitative"},"y":{"datum":54.533,"type":"quantitative"},"text":{"value":"12/31/07"}}},
{"encoding":{"x":{"field":"i","type":"quantitative","scale":{"domain":[-2.377,252.77],"nice":false,"zero":false},"axis":{"values":[20.7,40.8,62.8,82.8,104.7,125.8,146.7,169.65,188.77,211.75,232.78],"tickCount":30,"grid":true,"labels":false}}},
"layer":[
{"mark":{"type":"rule","color":"#000","strokeWidth":1},"encoding":{"y":{"field":"l","type":"quantitative","scale":{"domain":[38,54],"nice":false,"zero":false},"axis":{"orient":"right","values":[38,39,40,41,42,43,44,45,46,47,48,49,50,51,52,53,54],"tickCount":30,"format":"d","grid":true,"labelPadding":13,"labelOverlap":false}},"y2":{"field":"h"}}},
{"mark":{"type":"tick","orient":"horizontal","size":3,"thickness":1,"xOffset":-2,"color":"#000","opacity":1},"encoding":{"y":{"field":"o","type":"quantitative"}}},
{"mark":{"type":"tick","orient":"horizontal","size":3,"thickness":1,"xOffset":2,"color":"#000","opacity":1},"encoding":{"y":{"field":"c","type":"quantitative"}}},
{"data":{"values":[{"i":138,"v":50.88},{"i":197,"v":47.26}]},"mark":{"type":"rule","color":"#a84444","strokeWidth":4.5,"strokeCap":"butt","clip":false},"encoding":{"y":{"field":"v","type":"quantitative"},"y2":{"datum":54.8}}}
]}
]
},
{
"width":966,"height":141,
"layer":[
{"data":{"name":"one"},"mark":{"type":"rect","color":"#c8c8c8","clip":false},"encoding":{"x":{"datum":-5.55,"type":"quantitative"},"x2":{"datum":268.8},"y":{"datum":115.6,"type":"quantitative"},"y2":{"datum":104.26}}},
{"data":{"name":"one"},"mark":{"type":"text","align":"left","baseline":"middle"},"encoding":{"x":{"datum":-2.377,"type":"quantitative"},"y":{"datum":109.93,"type":"quantitative"},"text":{"value":"Relative Strength Index(14)"}}},
{"data":{"name":"one"},"mark":{"type":"point","shape":"M-1,-0.33L1,-0.33L1,0.33L-1,0.33Z","size":144,"filled":true,"fill":"#000","stroke":"#fff","strokeWidth":1,"opacity":1},"encoding":{"x":{"datum":43.18,"type":"quantitative"},"y":{"datum":109.93,"type":"quantitative"}}},
{"data":{"name":"one"},"mark":{"type":"text","align":"right","baseline":"middle","font":"DejaVu Sans","fontWeight":"bold","color":"#888888"},"encoding":{"x":{"datum":252.77,"type":"quantitative"},"y":{"datum":109.93,"type":"quantitative"},"text":{"value":"©BigCharts.com"}}},
{"data":{"name":"one"},"mark":{"type":"rule","color":"#000","strokeWidth":1},"encoding":{"x":{"datum":-2.377,"type":"quantitative"},"x2":{"datum":252.77},"y":{"datum":50,"type":"quantitative"}}},
{"mark":{"type":"line","color":"#222","strokeWidth":1},"encoding":{"x":{"field":"i","type":"quantitative","scale":{"domain":[-2.377,252.77],"nice":false,"zero":false},"axis":{"values":[20.7,40.8,62.8,82.8,104.7,125.8,146.7,169.65,188.77,211.75,232.78],"tickCount":30,"grid":true,"labels":false}},"y":{"field":"rsi","type":"quantitative","scale":{"domain":[0,100],"nice":false},"axis":{"orient":"right","values":[0,20,50,80,100],"tickCount":30,"grid":true,"labelPadding":13,"labelOverlap":false}}}}
]
},
{
"width":966,"height":141,
"layer":[
{"data":{"name":"one"},"mark":{"type":"rect","color":"#c8c8c8","clip":false},"encoding":{"x":{"datum":-5.55,"type":"quantitative"},"x2":{"datum":268.8},"y":{"datum":1.968,"type":"quantitative"},"y2":{"datum":1.628}}},
{"data":{"name":"one"},"mark":{"type":"text","align":"left","baseline":"middle"},"encoding":{"x":{"datum":-2.377,"type":"quantitative"},"y":{"datum":1.798,"type":"quantitative"},"text":{"value":"MACD(12,26)"}}},
{"data":{"name":"one"},"mark":{"type":"point","shape":"M-1,-0.33L1,-0.33L1,0.33L-1,0.33Z","size":144,"filled":true,"fill":"#1e78ff","stroke":"#fff","strokeWidth":1,"opacity":1},"encoding":{"x":{"datum":17.88,"type":"quantitative"},"y":{"datum":1.798,"type":"quantitative"}}},
{"data":{"name":"one"},"mark":{"type":"text","align":"left","baseline":"middle"},"encoding":{"x":{"datum":22.0,"type":"quantitative"},"y":{"datum":1.798,"type":"quantitative"},"text":{"value":"MACD EMA(9)"}}},
{"data":{"name":"one"},"mark":{"type":"point","shape":"M-1,-0.33L1,-0.33L1,0.33L-1,0.33Z","size":144,"filled":true,"fill":"#a33a3a","stroke":"#fff","strokeWidth":1,"opacity":1},"encoding":{"x":{"datum":42.48,"type":"quantitative"},"y":{"datum":1.798,"type":"quantitative"}}},
{"data":{"name":"one"},"mark":{"type":"text","align":"left","baseline":"middle"},"encoding":{"x":{"datum":46.67,"type":"quantitative"},"y":{"datum":1.798,"type":"quantitative"},"text":{"value":"Divergence"}}},
{"data":{"name":"one"},"mark":{"type":"point","shape":"M-1,-0.33L1,-0.33L1,0.33L-1,0.33Z","size":144,"filled":true,"fill":"#000","stroke":"#fff","strokeWidth":1,"opacity":1},"encoding":{"x":{"datum":65.37,"type":"quantitative"},"y":{"datum":1.798,"type":"quantitative"}}},
{"data":{"name":"one"},"mark":{"type":"rule","color":"#000","strokeWidth":1},"encoding":{"x":{"datum":-2.377,"type":"quantitative"},"x2":{"datum":252.77},"y":{"datum":0,"type":"quantitative"}}},
{"encoding":{"x":{"field":"i","type":"quantitative","scale":{"domain":[-2.377,252.77],"nice":false,"zero":false},"axis":{"values":[20.7,40.8,62.8,82.8,104.7,125.8,146.7,169.65,188.77,211.75,232.78],"tickCount":30,"grid":true,"labels":false}}},
"layer":[
{"mark":{"type":"rule","color":"#000","strokeWidth":1},"encoding":{"y":{"field":"div","type":"quantitative","scale":{"domain":[-1.5,1.5],"nice":false,"zero":false},"axis":{"orient":"right","values":[-1.5,-1,-0.5,0,0.5,1,1.5],"tickCount":30,"labelExpr":"replace(format(datum.value,'.1f'),'−','-')","grid":true,"labelPadding":13,"labelOverlap":false}},"y2":{"datum":0}}},
{"mark":{"type":"line","color":"#a33a3a","strokeWidth":1.2},"encoding":{"y":{"field":"sig","type":"quantitative"}}},
{"mark":{"type":"line","color":"#1e78ff","strokeWidth":1.2},"encoding":{"y":{"field":"macd","type":"quantitative"}}}
]}
]
},
{
"width":966,"height":141,
"layer":[
{"data":{"name":"one"},"mark":{"type":"rect","color":"#c8c8c8","clip":false},"encoding":{"x":{"datum":-5.55,"type":"quantitative"},"x2":{"datum":268.8},"y":{"datum":121.38,"type":"quantitative"},"y2":{"datum":109.47}}},
{"data":{"name":"one"},"mark":{"type":"text","align":"left","baseline":"middle"},"encoding":{"x":{"datum":-2.377,"type":"quantitative"},"y":{"datum":115.43,"type":"quantitative"},"text":{"value":"Slow Stochastic(5,5) Fast %K"}}},
{"data":{"name":"one"},"mark":{"type":"point","shape":"M-1,-0.33L1,-0.33L1,0.33L-1,0.33Z","size":144,"filled":true,"fill":"#1e78ff","stroke":"#fff","strokeWidth":1,"opacity":1},"encoding":{"x":{"datum":44.72,"type":"quantitative"},"y":{"datum":115.43,"type":"quantitative"}}},
{"data":{"name":"one"},"mark":{"type":"text","align":"left","baseline":"middle"},"encoding":{"x":{"datum":49.13,"type":"quantitative"},"y":{"datum":115.43,"type":"quantitative"},"text":{"value":"Slow %D"}}},
{"data":{"name":"one"},"mark":{"type":"point","shape":"M-1,-0.33L1,-0.33L1,0.33L-1,0.33Z","size":144,"filled":true,"fill":"#a33a3a","stroke":"#fff","strokeWidth":1,"opacity":1},"encoding":{"x":{"datum":62.99,"type":"quantitative"},"y":{"datum":115.43,"type":"quantitative"}}},
{"encoding":{"x":{"field":"i","type":"quantitative","scale":{"domain":[-2.377,252.77],"nice":false,"zero":false},"axis":{"values":[20.7,40.8,62.8,82.8,104.7,125.8,146.7,169.65,188.77,211.75,232.78],"tickCount":30,"grid":true,"labels":true,"labelPadding":3,"labelExpr":"datum.value < 30 ? 'Feb' : datum.value < 50 ? 'Mar' : datum.value < 70 ? 'Apr' : datum.value < 90 ? 'May' : datum.value < 110 ? 'Jun' : datum.value < 135 ? 'Jul' : datum.value < 155 ? 'Aug' : datum.value < 175 ? 'Sep' : datum.value < 200 ? 'Oct' : datum.value < 220 ? 'Nov' : 'Dec'"}}},
"layer":[
{"mark":{"type":"line","color":"#1e78ff","strokeWidth":1.2},"encoding":{"y":{"field":"k","type":"quantitative","scale":{"domain":[0,105],"nice":false,"zero":false},"axis":{"orient":"right","values":[0,15,30,45,60,75,90,105],"tickCount":30,"grid":true,"labelPadding":13,"labelOverlap":false}}}},
{"mark":{"type":"line","color":"#a33a3a","strokeWidth":1.2},"encoding":{"y":{"field":"d","type":"quantitative"}}}
]}
]
}
]
}
